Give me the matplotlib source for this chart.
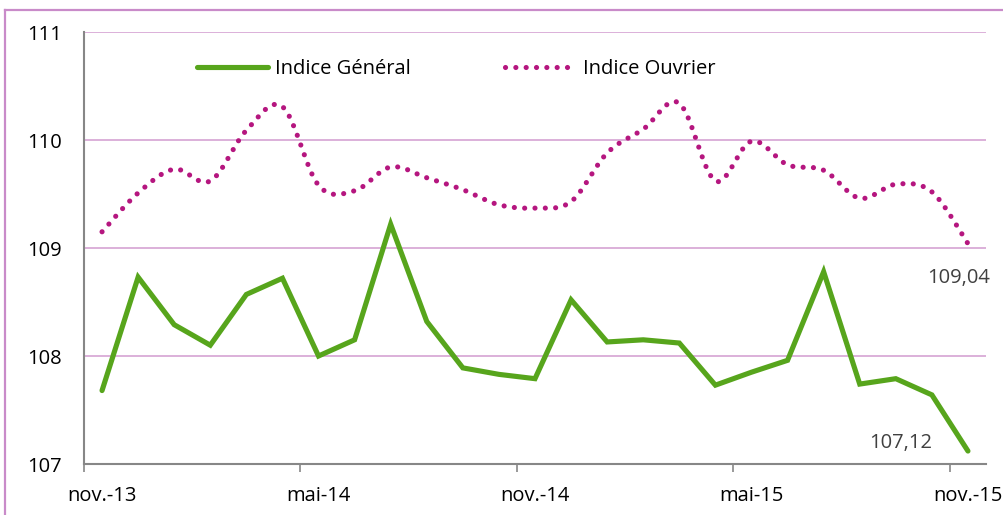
import matplotlib
matplotlib.use("Agg")
import matplotlib.pyplot as plt
from matplotlib.lines import Line2D
import numpy as np

plt.rcParams['font.family'] = ['Open Sans', 'DejaVu Sans']

months = ["nov.-13", "déc.-13", "janv.-14", "févr.-14", "mars-14", "avr.-14", "mai-14",
          "juin-14", "juil.-14", "août-14", "sept.-14", "oct.-14", "nov.-14", "déc.-14",
          "janv.-15", "févr.-15", "mars-15", "avr.-15", "mai-15", "juin-15", "juil.-15",
          "août-15", "sept.-15", "oct.-15", "nov.-15"]

indice_general = [107.68, 108.73, 108.29, 108.10, 108.57, 108.72, 108.00, 108.15, 109.22,
                  108.32, 107.89, 107.83, 107.79, 108.52, 108.13, 108.15, 108.12, 107.73,
                  107.85, 107.96, 108.78, 107.74, 107.79, 107.64, 107.12]

indice_ouvrier = [109.15, 109.51, 109.73, 109.62, 110.09, 110.31, 109.58, 109.53, 109.75,
                  109.65, 109.54, 109.40, 109.37, 109.43, 109.88, 110.10, 110.34, 109.62,
                  109.99, 109.77, 109.72, 109.46, 109.59, 109.52, 109.04]

tick_labels = ["nov.-13", "mai-14", "nov.-14", "mai-15", "nov.-15"]
y_ticks = [107, 108, 109, 110, 111]

GREEN = "#57A51C"
PURPLE = "#B5167F"
GRID = "#D6A3D3"
AXIS = "#878787"
FS = 14.5


def smooth(y, n=12):
    # Catmull-Rom style smoothing (Excel "smoothed line")
    y = np.asarray(y, float)
    x = np.arange(len(y), dtype=float)
    P = np.concatenate([[y[0]], y, [y[-1]]])
    X = np.concatenate([[x[0]], x, [x[-1]]])
    xs, ys = [], []
    for i in range(1, len(P) - 2):
        p0, p1, p2, p3 = P[i - 1], P[i], P[i + 1], P[i + 2]
        x0, x1, x2, x3 = X[i - 1], X[i], X[i + 1], X[i + 2]
        t = np.linspace(0, 1, n, endpoint=False)
        m1 = (p2 - p0) / 2
        m2 = (p3 - p1) / 2
        mx1 = (x2 - x0) / 2
        mx2 = (x3 - x1) / 2
        h00 = 2 * t**3 - 3 * t**2 + 1
        h10 = t**3 - 2 * t**2 + t
        h01 = -2 * t**3 + 3 * t**2
        h11 = t**3 - t**2
        ys.append(h00 * p1 + h10 * m1 + h01 * p2 + h11 * m2)
        xs.append(h00 * x1 + h10 * mx1 + h01 * x2 + h11 * mx2)
    xs.append([x[-1]])
    ys.append([y[-1]])
    return np.concatenate(xs), np.concatenate(ys)


fig = plt.figure(figsize=(10.04, 5.15), dpi=100)
ax = fig.add_axes([84 / 1004, 1 - 464 / 515, (986 - 84) / 1004, (464 - 32) / 515])

x = np.arange(len(months))
ax.plot(x, indice_general, color=GREEN, lw=3.7, solid_joinstyle='miter', solid_capstyle='round', zorder=3)
sx, sy = smooth(indice_ouvrier)
ax.plot(sx, sy, color=PURPLE, lw=3.7, linestyle=(0, (0.01, 2.0)), dash_capstyle='round', zorder=3)

ax.set_xlim(-0.5, len(months) - 0.5)
ax.set_ylim(107, 111)
ax.set_yticks(y_ticks)
ax.set_yticklabels([str(v) for v in y_ticks], fontsize=FS, color="#000000")
for v in y_ticks[1:]:
    ax.axhline(v, color=GRID, lw=1.2, zorder=1)

ax.set_xticks([-0.5, 5.5, 11.5, 17.5, 23.5])
ax.set_xticklabels([])
ax.tick_params(axis='x', length=6, color=AXIS, width=1.2, direction='out')
ax.tick_params(axis='y', length=0, pad=16)
for i, lab in zip([0, 6, 12, 18, 24], tick_labels):
    ax.text(i, -0.074, lab, transform=ax.get_xaxis_transform(), ha='center', va='center', fontsize=FS)

for s in ['top', 'right']:
    ax.spines[s].set_visible(False)
for s in ['left', 'bottom']:
    ax.spines[s].set_color(AXIS)
    ax.spines[s].set_linewidth(1.5)

ax.text(24.6, 108.72, "109,04", ha='right', va='center', fontsize=FS, color="#404040")
ax.text(23.0, 107.195, "107,12", ha='right', va='center', fontsize=FS, color="#404040")

handles = [Line2D([], [], color=GREEN, lw=3.7, solid_capstyle='round'),
           Line2D([], [], color=PURPLE, lw=3.7, linestyle=(0, (0.01, 2.0)), dash_capstyle='round')]
fs_px = FS * 100 / 72
leg = ax.legend(handles, ["Indice Général", "Indice Ouvrier"], loc='center left',
                bbox_to_anchor=((197 - 84) / 902, (464 - 69) / 432), ncol=2, frameon=False,
                fontsize=FS, borderpad=0, borderaxespad=0,
                handlelength=71 / fs_px, handletextpad=7 / fs_px, columnspacing=94 / fs_px)

# outer border
fig.add_artist(Line2D([5 / 1004, 5 / 1004], [0, 1 - 10 / 515], transform=fig.transFigure, color="#C98BC9", lw=1.6))
fig.add_artist(Line2D([5 / 1004, 1], [1 - 10 / 515, 1 - 10 / 515], transform=fig.transFigure, color="#C98BC9", lw=1.6))

fig.savefig("out.png", dpi=100)
